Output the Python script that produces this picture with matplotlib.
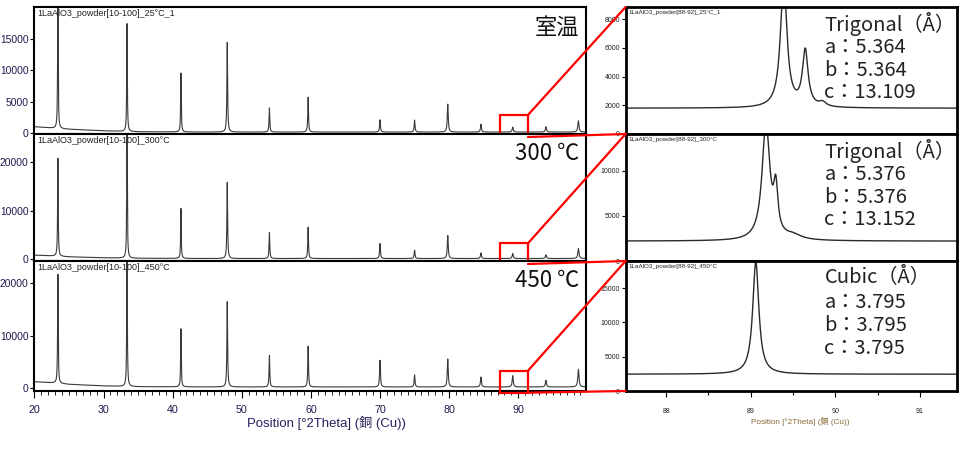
import numpy as np
import matplotlib
matplotlib.use("Agg")
import matplotlib.pyplot as plt
from matplotlib.patches import Rectangle, ConnectionPatch
from matplotlib.ticker import MultipleLocator
from matplotlib import font_manager

# ---- data ----
temps = ["25°C_1", "300°C", "450°C"]
temp_labels = ["室温", "300 ℃", "450 ℃"]

peak_pos = [23.4, 33.4, 41.2, 47.9, 54.0, 59.6, 70.0, 75.0, 79.8, 84.6, 89.2, 94.0, 98.7]
peak_width = [0.05, 0.05, 0.05, 0.06, 0.06, 0.06, 0.07, 0.07, 0.08, 0.08, 0.09, 0.09, 0.10]
height_25 = [21500, 17200, 9400, 14300, 3850, 5550, 1950, 1900, 4450, 1250, 800, 850, 1800]
height_300 = [20200, 28000, 10300, 15700, 5360, 6450, 3100, 1720, 4740, 1170, 1030, 760, 2060]
height_450 = [20760, 27000, 11050, 16250, 6030, 7750, 5080, 2290, 5330, 1900, 2150, 1280, 3370]

bg_x = [20, 23, 25, 30, 35, 45, 100]
bg_25 = [1000, 750, 600, 350, 200, 150, 150]
bg_300 = [800, 600, 450, 250, 150, 100, 100]
bg_450 = [1200, 950, 700, 400, 250, 200, 200]

# zoomed scans 88-92
zpos_25 = [89.39, 89.645, 89.85]
zamp_25 = [8700, 3900, 300]
zgam_25 = [0.047, 0.04, 0.05]
zpos_300 = [89.18, 89.296, 89.5]
zamp_300 = [12800, 4880, 500]
zgam_300 = [0.055, 0.03, 0.12]
zpos_450 = [89.06]
zamp_450 = [16350]
zgam_450 = [0.044]
zbase = [1800, 2200, 2450]

phase = ["Trigonal（Å）", "Trigonal（Å）", "Cubic（Å）"]
lat_a = ["5.364", "5.376", "3.795"]
lat_b = ["5.364", "5.376", "3.795"]
lat_c = ["13.109", "13.152", "3.795"]

# ---- fonts ----
installed = {f.name for f in font_manager.fontManager.ttflist}
if "Liberation Sans Narrow" in installed:
    NARROW = "Liberation Sans Narrow"
    NSCALE = 1.0
else:
    NARROW = "Liberation Sans"
    NSCALE = 0.9
JP = "Noto Sans CJK JP"
plt.rcParams["font.family"] = [NARROW, JP, "DejaVu Sans"]

NAVY = "#1c1a4e"


def profile(x, pos, amp, gam):
    y = np.zeros_like(x)
    for p, a, g in zip(pos, amp, gam):
        y += a / (1 + ((x - p) / g) ** 2)
    return y


fig = plt.figure(figsize=(9.6, 4.5), dpi=100)

W, H = 960, 450
rows = [(7, 134), (134, 261), (261, 391)]
left_x = (34.4, 586)
right_x = (625.6, 957)


def px_axes(x0, x1, y0, y1):
    return fig.add_axes([x0 / W, 1 - y1 / H, (x1 - x0) / W, (y1 - y0) / H])


left_ylims = [(-160, 20100), (-410, 25770), (-570, 24190)]
left_yticks = [[0, 5000, 10000, 15000], [0, 10000, 20000], [0, 10000, 20000]]
right_ylims = [(0, 8860), (0, 14040), (0, 18960)]
right_yticks = [[0, 2000, 4000, 6000, 8000], [0, 5000, 10000], [0, 5000, 10000, 15000]]
box_y = [(-640, 2870), (-1030, 3230), (-890, 3290)]

heights = [height_25, height_300, height_450]
bgs = [bg_25, bg_300, bg_450]
zpos = [zpos_25, zpos_300, zpos_450]
zamp = [zamp_25, zamp_300, zamp_450]
zgam = [zgam_25, zgam_300, zgam_450]

x_full = np.linspace(20, 100, 16001)
x_zoom = np.linspace(87.5, 91.5, 2001)

for i, (y0, y1) in enumerate(rows):
    # ---- left: full pattern ----
    axL = px_axes(left_x[0], left_x[1], y0, y1)
    yL = np.interp(x_full, bg_x, bgs[i]) + profile(x_full, peak_pos, heights[i], peak_width)
    axL.plot(x_full, yL, color="#3a3a3a", lw=0.8)
    axL.set_xlim(20, 99.8)
    axL.set_ylim(*left_ylims[i])
    axL.set_yticks(left_yticks[i])
    axL.tick_params(axis="y", direction="out", length=3, width=0.8,
                    labelsize=8.2 * NSCALE, labelcolor=NAVY, pad=1.2)
    for s in axL.spines.values():
        s.set_linewidth(1.5)
    axL.text(0.005, 0.985, "1LaAlO3_powder[10-100]_" + temps[i], transform=axL.transAxes,
             ha="left", va="top", fontsize=7.2 * NSCALE, color="#222222")
    axL.text(0.988, 0.935, temp_labels[i], transform=axL.transAxes, ha="right", va="top",
             fontsize=16, family=[JP, "DejaVu Sans"], color="#111111")
    if i < 2:
        axL.tick_params(axis="x", bottom=False, labelbottom=False)
    else:
        axL.xaxis.set_major_locator(MultipleLocator(10))
        axL.xaxis.set_minor_locator(MultipleLocator(1))
        axL.tick_params(axis="x", which="major", direction="out", length=5, width=0.8,
                        labelsize=8.5 * NSCALE, labelcolor=NAVY, pad=5)
        axL.tick_params(axis="x", which="minor", direction="out", length=3, width=0.6)

    # red zoom box
    rect = Rectangle((87.4, box_y[i][0]), 4.0, box_y[i][1] - box_y[i][0], fill=False,
                     edgecolor="red", lw=1.6, clip_on=False, zorder=6)
    axL.add_patch(rect)

    # ---- right: zoom scan ----
    axR = px_axes(right_x[0], right_x[1], y0, y1)
    yR = zbase[i] + profile(x_zoom, zpos[i], zamp[i], zgam[i])
    axR.plot(x_zoom, yR, color="#2a2a2a", lw=1.0)
    axR.set_xlim(87.52, 91.44)
    axR.set_ylim(*right_ylims[i])
    axR.set_yticks(right_yticks[i])
    axR.tick_params(axis="y", direction="out", length=3, width=0.8,
                    labelsize=5, labelcolor="#222222", pad=1)
    for s in axR.spines.values():
        s.set_linewidth(2)
    axR.text(0.008, 0.975, "1LaAlO3_powder[88-92]_" + temps[i], transform=axR.transAxes,
             ha="left", va="top", fontsize=4.5, color="#222222")
    lines = [phase[i], "a：" + lat_a[i], "b：" + lat_b[i], "c：" + lat_c[i]]
    for k, t in enumerate(lines):
        ty = 0.96 - k * 0.177 - (0.02 if k > 0 else 0)
        axR.text(0.6, ty, t, transform=axR.transAxes, ha="left", va="top",
                 fontsize=14.5, family=[JP, "DejaVu Sans"], color="#222222")
    if i < 2:
        axR.tick_params(axis="x", bottom=False, labelbottom=False)
    else:
        axR.xaxis.set_major_locator(MultipleLocator(1))
        axR.xaxis.set_minor_locator(MultipleLocator(0.5))
        axR.tick_params(axis="x", which="major", direction="out", length=4, width=0.8,
                        labelsize=5, labelcolor="#222222", pad=8)
        axR.tick_params(axis="x", which="minor", direction="out", length=3, width=0.8)

    # connecting red lines
    for ya, yb in [(box_y[i][1], 1), (box_y[i][0], 0)]:
        con = ConnectionPatch(xyA=(91.4, ya), coordsA=axL.transData,
                              xyB=(0, yb), coordsB=axR.transAxes,
                              color="red", lw=1.6, zorder=10)
        fig.add_artist(con)

fig.text(326.7 / W, 1 - 423 / H, "Position [°2Theta] (銅 (Cu))", ha="center", va="center",
         fontsize=10.5 * NSCALE, color="#2d1f5e", family=[NARROW, JP, "DejaVu Sans"])
fig.text(800 / W, 1 - 422 / H, "Position [°2Theta] (銅 (Cu))", ha="center", va="center",
         fontsize=6.5 * NSCALE, color="#8c6a3a", family=[NARROW, JP, "DejaVu Sans"])

fig.savefig("out.png", dpi=100)
